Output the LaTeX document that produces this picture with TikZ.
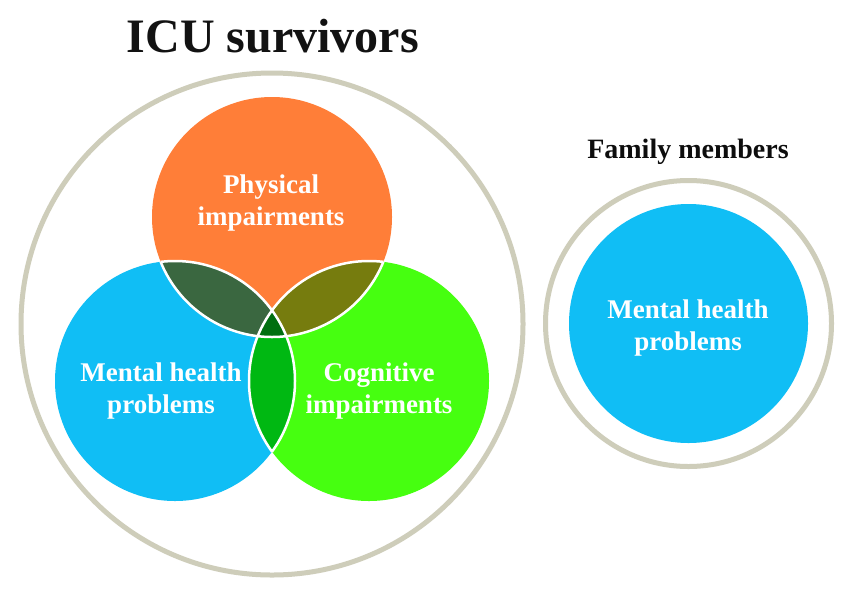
\documentclass[tikz,border=0pt]{standalone}
\usepackage{fontspec}
\setmainfont{Liberation Serif}
\definecolor{ringc}{RGB}{206,205,186}
\definecolor{orangec}{RGB}{255,126,56}
\definecolor{bluec}{RGB}{16,190,245}
\definecolor{greenc}{RGB}{70,255,16}
\definecolor{obc}{RGB}{58,103,64}
\definecolor{ogc}{RGB}{118,124,14}
\definecolor{bgc}{RGB}{0,184,18}
\definecolor{obgc}{RGB}{0,111,16}
\tikzset{
  ring/.style={draw=ringc, line width=5pt},
  label/.style={text=white, font=\fontsize{27}{32}\selectfont\bfseries, align=center},
  sep/.style={draw=white, line width=2.5pt}
}
\begin{document}
\begin{tikzpicture}[x=1pt, y=-1pt]
\useasboundingbox (0,0) rectangle (850,595);
\fill[white] (0,0) rectangle (850,595);
\def\R{120pt}
\coordinate (icu) at (272,324);
\coordinate (ph) at (272,217);
\coordinate (mh) at (175,381);
\coordinate (cg) at (369,381);
\coordinate (fam) at (688.5,323.5);
% outer rings
\draw[ring] (icu) circle (251pt);
\draw[ring] (fam) circle (143pt);
% base circles
\fill[orangec] (ph) circle (\R);
\fill[bluec] (mh) circle (\R);
\fill[greenc] (cg) circle (\R);
\fill[bluec] (fam) circle (119.5pt);
% pairwise intersections
\begin{scope}\clip (ph) circle (\R); \fill[obc] (mh) circle (\R);\end{scope}
\begin{scope}\clip (ph) circle (\R); \fill[ogc] (cg) circle (\R);\end{scope}
\begin{scope}\clip (mh) circle (\R); \fill[bgc] (cg) circle (\R);\end{scope}
\begin{scope}\clip (mh) circle (\R); \clip (cg) circle (\R); \fill[obgc] (ph) circle (\R);\end{scope}
% white separators
\begin{scope}\clip (mh) circle (\R) (cg) circle (\R); \draw[sep] (ph) circle (\R);\end{scope}
\begin{scope}\clip (ph) circle (\R) (cg) circle (\R); \draw[sep] (mh) circle (\R);\end{scope}
\begin{scope}\clip (ph) circle (\R) (mh) circle (\R); \draw[sep] (cg) circle (\R);\end{scope}
% texts
\node[anchor=base, font=\fontsize{48}{56}\selectfont\bfseries, text=black!93] (title) at (273,52) {ICU survivors};
\node[anchor=base, font=\fontsize{28}{32}\selectfont\bfseries, text=black!95] (famtitle) at (688,158) {Family members};
\node[label] (phl) at (271,203) {Physical\\impairments};
\node[label] (mhl) at (161,391) {Mental health\\problems};
\node[label] (cgl) at (379,391) {Cognitive\\impairments};
\node[label] (faml) at (688,328) {Mental health\\problems};
\end{tikzpicture}
\end{document}
